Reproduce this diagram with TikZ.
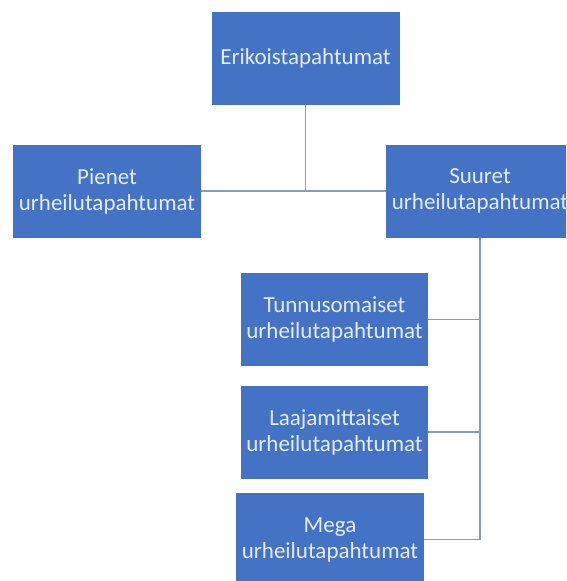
\documentclass[tikz,border=0pt]{standalone}
\usepackage{fontspec}
\setmainfont{Carlito}
\definecolor{boxblue}{HTML}{4472C4}
\definecolor{boxtext}{HTML}{E4ECF8}
\definecolor{linegrey}{HTML}{8C9AB4}

\begin{document}
\begin{tikzpicture}[x=1pt,y=-1pt,thick,main node/.style={fill=boxblue,text=boxtext,minimum width=188pt,minimum height=93pt,inner sep=0pt,align=center,font=\fontsize{23}{26}\selectfont},link/.style={draw=linegrey,line width=1.4pt}]
            \useasboundingbox (0,0) rectangle (566,581);
            \clip (0,0) rectangle (566,581);

            \node[main node] (1) at (305.5,58.5) {Erikoistapahtumat};
            \node[main node] (2) at (107,191) {Pienet\\urheilutapahtumat};
            \node[main node] (3) at (480,191) {Suuret\\urheilutapahtumat};
            \node[main node, minimum width=187pt] (4) at (334.5,319.5) {Tunnusomaiset\\urheilutapahtumat};
            \node[main node, minimum width=187pt] (5) at (334.5,432) {Laajamittaiset\\urheilutapahtumat};
            \node[main node] (6) at (330,539.5) {Mega\\urheilutapahtumat};

            \path[link]
                (1.south) edge (1.south |- 2.east)
                (2.east) edge (3.west)

                (3.south) edge[to path={|- (\tikztotarget)}] (4.east)
                (3.south) edge[to path={|- (\tikztotarget)}] (5.east)
                (3.south) edge[to path={|- (\tikztotarget)}] (6.east)
                ;
        \end{tikzpicture}
\end{document}
